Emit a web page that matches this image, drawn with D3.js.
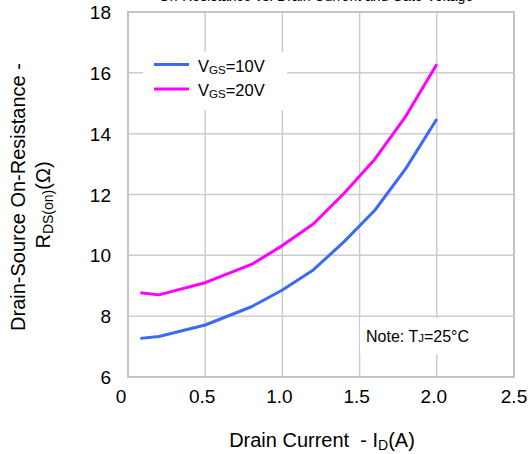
<!DOCTYPE html>
<html>
<head>
<meta charset="utf-8">
<script src="https://cdn.jsdelivr.net/npm/d3@7"></script>
<style>
  body { margin: 0; background: #fff; }
  text { font-family: "Liberation Sans", Arial, sans-serif; fill: #000; }
</style>
</head>
<body>
<div class="chart"></div>
<script>
// drain current (A)
const current = [0.08, 0.2, 0.5, 0.8, 1.0, 1.2, 1.4, 1.6, 1.8, 2.0];
// on-resistance (ohm) for each gate voltage
const vgs10 = [7.27, 7.33, 7.71, 8.31, 8.86, 9.52, 10.45, 11.49, 12.86, 14.48];
const vgs20 = [8.77, 8.70, 9.10, 9.70, 10.32, 11.03, 12.04, 13.17, 14.58, 16.28];
const xTicks = [0, 0.5, 1.0, 1.5, 2.0, 2.5];
const yTicks = [6, 8, 10, 12, 14, 16, 18];

const width = 532;
const height = 454;
const margin = { top: 12, right: 18, bottom: 77, left: 128 };

const svg = d3
  .select(".chart")
  .append("svg")
  .attr("width", width)
  .attr("height", height);

const x = d3.scaleLinear().domain([0, 2.5]).range([margin.left, width - margin.right]);
const y = d3.scaleLinear().domain([6, 18]).range([height - margin.bottom, margin.top]);

// title (runs off the top like in the original)
svg.append("text")
  .attr("x", 316)
  .attr("y", 0.5)
  .attr("text-anchor", "middle")
  .attr("font-size", 14)
  .text("On-Resistance vs. Drain Current and Gate Voltage");

// grid
svg.append("g")
  .selectAll("line")
  .data(xTicks)
  .enter()
  .append("line")
  .attr("x1", (d) => x(d))
  .attr("x2", (d) => x(d))
  .attr("y1", y(6))
  .attr("y2", y(18))
  .attr("stroke", "#cdcdcd")
  .attr("stroke-width", 1.5);

svg.append("g")
  .selectAll("line")
  .data(yTicks)
  .enter()
  .append("line")
  .attr("x1", x(0))
  .attr("x2", x(2.5))
  .attr("y1", (d) => y(d))
  .attr("y2", (d) => y(d))
  .attr("stroke", "#cdcdcd")
  .attr("stroke-width", 1.5);

svg.append("rect")
  .attr("x", x(0))
  .attr("y", y(18))
  .attr("width", x(2.5) - x(0))
  .attr("height", y(6) - y(18))
  .attr("fill", "none")
  .attr("stroke", "#c4c4c4")
  .attr("stroke-width", 2);

// tick labels
svg.selectAll("text.xt")
  .data(xTicks)
  .enter()
  .append("text")
  .attr("class", "xt")
  .attr("x", (d) => (d === 0 ? x(d) - 7 : d === 2.5 ? x(d) : x(d) - 3))
  .attr("y", y(6) + 26)
  .attr("text-anchor", "middle")
  .attr("font-size", 19)
  .text((d) => (d === 0 ? "0" : d3.format(".1f")(d)));

svg.selectAll("text.yt")
  .data(yTicks)
  .enter()
  .append("text")
  .attr("class", "yt")
  .attr("x", margin.left - 17)
  .attr("y", (d) => y(d) + 7)
  .attr("text-anchor", "end")
  .attr("font-size", 19)
  .text((d) => d);

// axis titles
const xt = svg.append("text")
  .attr("x", 322)
  .attr("y", 446.5)
  .attr("text-anchor", "middle")
  .attr("font-size", 20)
  .attr("xml:space", "preserve");
xt.append("tspan").text("Drain Current \u00a0- I");
xt.append("tspan").attr("font-size", 14).attr("dy", 3).text("D");
xt.append("tspan").attr("dy", -3).text("(A)");

const yt = svg.append("g").attr("transform", "translate(0,197) rotate(-90)");
yt.append("text")
  .attr("x", 0)
  .attr("y", 25)
  .attr("text-anchor", "middle")
  .attr("font-size", 20)
  .text("Drain-Source On-Resistance -");
const yt2 = yt.append("text")
  .attr("x", -8)
  .attr("y", 50)
  .attr("text-anchor", "middle")
  .attr("font-size", 20);
yt2.append("tspan").text("R");
yt2.append("tspan").attr("font-size", 14).attr("dy", 3).text("DS(on)");
yt2.append("tspan").attr("dy", -3).text("(Ω)");

// series
const series = [
  { name: "10V", values: vgs10, color: "#3b6af5" },
  { name: "20V", values: vgs20, color: "#ff00ff" }
];

const line = d3.line()
  .x((d, i) => x(current[i]))
  .y((d) => y(d));

svg.selectAll("path.series")
  .data(series)
  .enter()
  .append("path")
  .attr("class", "series")
  .attr("d", (d) => line(d.values))
  .attr("fill", "none")
  .attr("stroke", (d) => d.color)
  .attr("stroke-width", 3)
  .attr("stroke-linejoin", "round");

// legend
svg.append("rect")
  .attr("x", 143)
  .attr("y", 52)
  .attr("width", 144)
  .attr("height", 58)
  .attr("fill", "#fff");

const lg = svg.selectAll("g.lg")
  .data(series)
  .enter()
  .append("g")
  .attr("class", "lg")
  .attr("transform", (d, i) => "translate(154," + (64.5 + i * 24.5) + ")");
lg.append("line")
  .attr("x1", 0)
  .attr("x2", 35)
  .attr("stroke", (d) => d.color)
  .attr("stroke-width", 3);
const lt = lg.append("text")
  .attr("x", 44)
  .attr("y", 7)
  .attr("font-size", 16.5);
lt.append("tspan").text("V");
lt.append("tspan").attr("font-size", 11.5).attr("dy", 2).text("GS");
lt.append("tspan").attr("dy", -2).text((d) => "=" + d.name);

// note
svg.append("rect")
  .attr("x", 360)
  .attr("y", 318)
  .attr("width", 153)
  .attr("height", 36)
  .attr("fill", "#fff");
const nt = svg.append("text")
  .attr("x", 366)
  .attr("y", 342)
  .attr("font-size", 16);
nt.append("tspan").text("Note: T");
nt.append("tspan").attr("font-size", 11.5).text("J");
nt.append("tspan").text("=25°C");
</script>
</body>
</html>
